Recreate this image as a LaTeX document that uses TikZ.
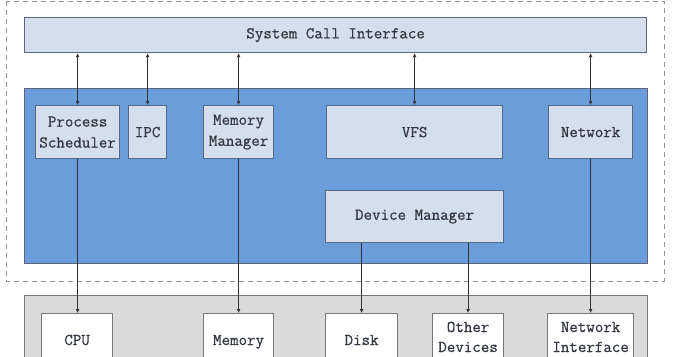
\documentclass[tikz,border=0pt]{standalone}
\usepackage{fontspec}
\setmonofont{Latin Modern Mono}[FakeBold=0.6]
\usetikzlibrary{arrows.meta}
\definecolor{kblue}{RGB}{108,157,219}
\definecolor{lblue}{RGB}{212,223,237}
\definecolor{bord}{RGB}{88,104,130}
\definecolor{hwgray}{RGB}{218,218,218}
\definecolor{hwbord}{RGB}{120,120,120}
\definecolor{txt}{RGB}{50,54,64}
\definecolor{dashc}{RGB}{150,150,150}
\tikzset{
  lbl/.style={font=\fontsize{16.5}{21}\selectfont\ttfamily, text=txt, align=center},
  kbox/.style={lbl, draw=bord, line width=1.2pt, fill=lblue, inner sep=0pt, anchor=north west},
  hwbox/.style={lbl, draw=hwbord, line width=1.2pt, fill=white, inner sep=0pt, anchor=north west},
  conn/.style={draw=black!80, line width=1pt},
  both/.style={conn, {Latex[length=4pt,width=4pt]}-{Latex[length=4pt,width=4pt]}},
  down/.style={conn, -{Latex[length=4pt,width=4pt]}},
}
\begin{document}
\begin{tikzpicture}[x=1pt,y=-1pt]
\useasboundingbox (0,0) rectangle (674,356);
\clip (0,0) rectangle (674,356);
\fill[white] (0,0) rectangle (674,356);
% outer dashed region
\draw[dashc, dashed, line width=1pt, dash pattern=on 5pt off 4pt] (6,1) rectangle (664,281);
% system call interface
\node[kbox, minimum width=622pt, minimum height=35pt] (sci) at (24,17) {System Call Interface};
% kernel
\node[draw=bord, line width=1.2pt, fill=kblue, minimum width=623pt, minimum height=175pt, inner sep=0pt, anchor=north west] (kernel) at (24,88) {};
\node[kbox, minimum width=84pt, minimum height=53pt] (ps) at (35,105) {Process\\Scheduler};
\node[kbox, minimum width=38pt, minimum height=53pt] (ipc) at (128,105) {IPC};
\node[kbox, minimum width=70pt, minimum height=53pt] (mm) at (203,105) {Memory\\Manager};
\node[kbox, minimum width=176pt, minimum height=53pt] (vfs) at (326,105) {VFS};
\node[kbox, minimum width=84pt, minimum height=53pt] (net) at (548,105) {Network};
\node[kbox, minimum width=178pt, minimum height=52pt] (dm) at (325,190) {Device Manager};
% hardware
\node[draw=hwbord, line width=1.2pt, fill=hwgray, minimum width=623pt, minimum height=90pt, inner sep=0pt, anchor=north west] (hw) at (24,295) {};
\node[hwbox, minimum width=71pt, minimum height=60pt] (cpu) at (41,313) {};
\node[lbl, anchor=base] at ([yshift=-32pt]cpu.north) {CPU};
\node[hwbox, minimum width=70pt, minimum height=60pt] (mem) at (203,313) {};
\node[lbl, anchor=base] at ([yshift=-32pt]mem.north) {Memory};
\node[hwbox, minimum width=72pt, minimum height=60pt] (disk) at (325,313) {};
\node[lbl, anchor=base] at ([yshift=-32pt]disk.north) {Disk};
\node[hwbox, minimum width=71pt, minimum height=60pt] (od) at (432,313) {};
\node[lbl, anchor=base] at ([yshift=-19pt]od.north) {Other};
\node[lbl, anchor=base] at ([yshift=-39pt]od.north) {Devices};
\node[hwbox, minimum width=86pt, minimum height=60pt] (ni) at (547,313) {};
\node[lbl, anchor=base] at ([yshift=-19pt]ni.north) {Network};
\node[lbl, anchor=base] at ([yshift=-39pt]ni.north) {Interface};
% connectors
\draw[both] (sci.south -| ps.north) -- (ps.north);
\draw[both] (sci.south -| ipc.north) -- (ipc.north);
\draw[both] (sci.south -| mm.north) -- (mm.north);
\draw[both] (sci.south -| vfs.north) -- (vfs.north);
\draw[both] (sci.south -| net.north) -- (net.north);
\draw[down] (ps.south) -- (ps.south |- cpu.north);
\draw[down] (mm.south) -- (mem.north);
\draw[down] (dm.south -| disk.north) -- (disk.north);
\draw[down] (dm.south -| od.north) -- (od.north);
\draw[down] (net.south) -- (ni.north);
\end{tikzpicture}
\end{document}
